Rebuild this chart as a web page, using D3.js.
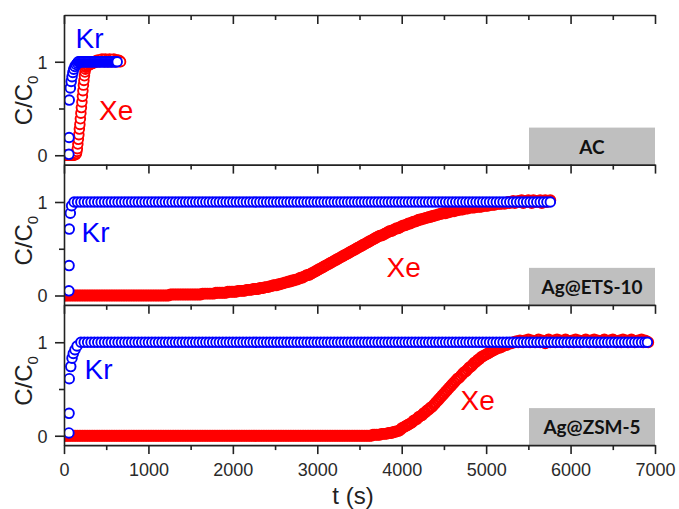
<!DOCTYPE html>
<html>
<head>
<meta charset="utf-8">
<script src="https://cdn.jsdelivr.net/npm/d3@7/dist/d3.min.js"></script>
<style>
html,body{margin:0;padding:0;background:#fff;}
svg{display:block;}
</style>
</head>
<body>
<svg id="chart" width="679" height="509"></svg>
<script>
// ---------------- DATA ----------------
const panelNames = ["AC", "Ag@ETS-10", "Ag@ZSM-5"];
const seriesNames = ["Kr", "Xe"];
const xMajorTicks = [0, 1000, 2000, 3000, 4000, 5000, 6000, 7000];
const xMinorTicks = [500, 1500, 2500, 3500, 4500, 5500, 6500];
const yMajorTicks = [0, 1];
const yMinorTicks = [0.5];

// ---- AC panel (time in s) ----
const acXeT = [0,10,20,30,40,50,60,70,80,90,100,110,120,130,140,
  146,152,158,164,170,176,182,188,194,200,206,212,218,224,230,236,242,248,254,
  260,270,280,290,300,310,320,330,340,350,360,370,380,390,400,410,420,430,440,450,
  460,470,480,490,500,510,520,530,540,550,560,570,580,590,600,610,620,630,640,650,660,670];
const acXeV = [0,0,0,0,0,0,0,0,0,0,0,0,0,0.01,0.01,
  0.02,0.04,0.07,0.12,0.17,0.22,0.28,0.33,0.39,0.45,0.51,0.57,0.63,0.69,0.75,0.80,0.85,0.89,0.92,
  0.94,0.95,0.96,0.96,0.97,0.97,0.98,0.98,0.99,0.99,
  0.99,1.00,1.01,1.00,1.02,1.01,1.00,1.02,1.01,1.03,
  1.01,1.02,1.00,1.03,1.01,1.02,1.00,1.01,1.03,1.02,
  1.00,1.02,1.01,1.03,1.01,1.00,1.02,1.01,1.02,1.00,
  1.01,1.00];
const acKrT = [58,60,62,75,85,95,105,115,130,145,160,
  170,180,190,200,210,220,230,240,250,260,270,280,290,300,310,320,330,340,350,360,
  370,380,390,400,410,420,430,440,450,460,470,480,490,500,510,520,530,540,550,560,
  570,580,590,600,610,620,630];
const acKrV = [0.01,0.19,0.59,0.72,0.79,0.84,0.885,0.92,0.95,0.97,0.985,
  1,1,1,1,1,1,1,1,1,1,
  1,1,1,1,1,1,1,1,1,1,
  1,1,1,1,1,1,1,1,1,1,
  1,1,1,1,1,1,1,1,1,1,
  1,1,1,1,1,1,1];

// ---- Ag@ETS-10 panel ----
const etsXeT = [0,20,40,60,80,100,120,140,160,180,
  200,220,240,260,280,300,320,340,360,380,
  400,420,440,460,480,500,520,540,560,580,
  600,620,640,660,680,700,720,740,760,780,
  800,820,840,860,880,900,920,940,960,980,
  1000,1020,1040,1060,1080,1100,1120,1140,1160,1180,
  1200,1220,1240,1260,1280,1300,1320,1340,1360,1380,
  1400,1420,1440,1460,1480,1500,1520,1540,1560,1580,
  1600,1620,1640,1660,1680,1700,1720,1740,1760,1780,
  1800,1820,1840,1860,1880,1900,1920,1940,1960,1980,
  2000,2020,2040,2060,2080,2100,2120,2140,2160,2180,
  2200,2220,2240,2260,2280,2300,2320,2340,2360,2380,
  2400,2420,2440,2460,2480,2500,2520,2540,2560,2580,
  2600,2620,2640,2660,2680,2700,2720,2740,2760,2780,
  2800,2820,2840,2860,2880,2900,2920,2940,2960,2980,
  3000,3020,3040,3060,3080,3100,3120,3140,3160,3180,
  3200,3220,3240,3260,3280,3300,3320,3340,3360,3380,
  3400,3420,3440,3460,3480,3500,3520,3540,3560,3580,
  3600,3620,3640,3660,3680,3700,3720,3740,3760,3780,
  3800,3820,3840,3860,3880,3900,3920,3940,3960,3980,
  4000,4020,4040,4060,4080,4100,4120,4140,4160,4180,
  4200,4220,4240,4260,4280,4300,4320,4340,4360,4380,
  4400,4420,4440,4460,4480,4500,4520,4540,4560,4580,
  4600,4620,4640,4660,4680,4700,4720,4740,4760,4780,
  4800,4820,4840,4860,4880,4900,4920,4940,4960,4980,
  5000,5020,5040,5060,5080,5100,5120,5140,5160,5180,
  5200,5220,5240,5260,5280,5300,5320,5340,5360,5380,
  5400,5420,5440,5460,5480,5500,5520,5540,5560,5580,
  5600,5620,5640,5660,5680,5700,5720,5740,5760];
const etsXeV = [0,0,0,0,0,0,0,0,0,0,
  0,0,0,0,0,0,0,0,0,0,
  0,0,0,0,0,0,0,0,0,0,
  0,0,0,0,0,0,0,0,0,0,
  0,0,0,0,0,0,0,0,0,0,
  0,0,0,0,0,0,0,0,0,0,
  0,0,0,0.01,0.01,0.01,0.01,0.01,0.01,0.01,
  0.01,0.01,0.01,0.01,0.01,0.01,0.01,0.01,0.01,0.01,
  0.01,0.01,0.02,0.02,0.02,0.02,0.02,0.02,0.02,0.02,
  0.03,0.03,0.03,0.03,0.03,0.03,0.03,0.04,0.04,0.04,
  0.04,0.04,0.04,0.05,0.05,0.05,0.05,0.05,0.06,0.06,
  0.06,0.06,0.07,0.07,0.07,0.07,0.08,0.08,0.08,0.09,
  0.09,0.09,0.10,0.10,0.11,0.11,0.11,0.12,0.12,0.13,
  0.13,0.14,0.14,0.15,0.15,0.16,0.16,0.17,0.17,0.18,
  0.19,0.19,0.20,0.21,0.22,0.22,0.23,0.24,0.25,0.26,
  0.27,0.28,0.29,0.30,0.31,0.32,0.33,0.34,0.35,0.36,
  0.37,0.38,0.39,0.40,0.41,0.42,0.43,0.44,0.45,0.46,
  0.47,0.48,0.49,0.50,0.51,0.52,0.53,0.54,0.55,0.56,
  0.57,0.58,0.59,0.60,0.61,0.62,0.63,0.64,0.64,0.65,
  0.66,0.67,0.68,0.69,0.69,0.70,0.71,0.72,0.72,0.73,
  0.74,0.75,0.75,0.76,0.77,0.77,0.78,0.79,0.79,0.80,
  0.81,0.81,0.82,0.82,0.83,0.83,0.84,0.84,0.85,0.85,
  0.86,0.86,0.87,0.87,0.88,0.88,0.88,0.89,0.89,0.90,
  0.90,0.90,0.91,0.91,0.92,0.92,0.92,0.93,0.93,0.93,
  0.94,0.94,0.94,0.94,0.95,0.95,0.95,0.95,0.96,0.96,
  0.96,0.96,0.97,0.97,0.97,0.97,0.98,0.98,0.98,0.98,
  0.99,0.98,0.99,1.00,0.99,1.00,1.01,0.99,1.00,1.01,
  1.00,1.02,0.99,1.01,1.00,1.02,1.01,0.99,1.02,1.00,
  1.01,1.00,1.02,0.99,1.01,1.02,1.00,1.01,1.02];
const etsKrT = [58,60,62,75,90,
  120,160,200,240,280,320,360,400,440,480,520,560,600,640,680,720,760,800,840,880,920,960,1000,
  1040,1080,1120,1160,1200,1240,1280,1320,1360,1400,1440,1480,1520,1560,1600,1640,1680,1720,1760,1800,
  1840,1880,1920,1960,2000,2040,2080,2120,2160,2200,2240,2280,2320,2360,2400,2440,2480,2520,2560,2600,
  2640,2680,2720,2760,2800,2840,2880,2920,2960,3000,3040,3080,3120,3160,3200,3240,3280,3320,3360,3400,
  3440,3480,3520,3560,3600,3640,3680,3720,3760,3800,3840,3880,3920,3960,4000,4040,4080,4120,4160,4200,
  4240,4280,4320,4360,4400,4440,4480,4520,4560,4600,4640,4680,4720,4760,4800,4840,4880,4920,4960,5000,
  5040,5080,5120,5160,5200,5240,5280,5320,5360,5400,5440,5480,5520,5560,5600,5640,5680,5720,5760];
const etsKrV = [0.05,0.32,0.71,0.88,0.96,
  1,1,1,1,1,1,1,1,1,1, 1,1,1,1,1,1,1,1,1,1,
  1,1,1,1,1,1,1,1,1,1, 1,1,1,1,1,1,1,1,1,1,
  1,1,1,1,1,1,1,1,1,1, 1,1,1,1,1,1,1,1,1,1,
  1,1,1,1,1,1,1,1,1,1, 1,1,1,1,1,1,1,1,1,1,
  1,1,1,1,1,1,1,1,1,1, 1,1,1,1,1,1,1,1,1,1,
  1,1,1,1,1,1,1,1,1,1, 1,1,1,1,1,1,1,1,1,1,
  1,1,1,1,1,1,1,1,1,1, 1,1,1,1,1,1,1,1,1,1,
  1,1];

// ---- Ag@ZSM-5 panel ----
const zsmXeT = [0,20,40,60,80,100,120,140,160,180,
  200,220,240,260,280,300,320,340,360,380,
  400,420,440,460,480,500,520,540,560,580,
  600,620,640,660,680,700,720,740,760,780,
  800,820,840,860,880,900,920,940,960,980,
  1000,1020,1040,1060,1080,1100,1120,1140,1160,1180,
  1200,1220,1240,1260,1280,1300,1320,1340,1360,1380,
  1400,1420,1440,1460,1480,1500,1520,1540,1560,1580,
  1600,1620,1640,1660,1680,1700,1720,1740,1760,1780,
  1800,1820,1840,1860,1880,1900,1920,1940,1960,1980,
  2000,2020,2040,2060,2080,2100,2120,2140,2160,2180,
  2200,2220,2240,2260,2280,2300,2320,2340,2360,2380,
  2400,2420,2440,2460,2480,2500,2520,2540,2560,2580,
  2600,2620,2640,2660,2680,2700,2720,2740,2760,2780,
  2800,2820,2840,2860,2880,2900,2920,2940,2960,2980,
  3000,3020,3040,3060,3080,3100,3120,3140,3160,3180,
  3200,3220,3240,3260,3280,3300,3320,3340,3360,3380,
  3400,3420,3440,3460,3480,3500,3520,3540,3560,3580,
  3600,3620,3640,3660,3680,3700,3720,3740,3760,3780,
  3800,3820,3840,3860,3880,3900,3920,3940,3960,3980,
  4000,4020,4040,4060,4080,4100,4120,4140,4160,4180,
  4200,4220,4240,4260,4280,4300,4320,4340,4360,4380,
  4400,4420,4440,4460,4480,4500,4520,4540,4560,4580,
  4600,4620,4640,4660,4680,4700,4720,4740,4760,4780,
  4800,4820,4840,4860,4880,4900,4920,4940,4960,4980,
  5000,5020,5040,5060,5080,5100,5120,5140,5160,5180,
  5200,5220,5240,5260,5280,5300,5320,5340,5360,5380,
  5400,5420,5440,5460,5480,5500,5520,5540,5560,5580,
  5600,5620,5640,5660,5680,5700,5720,5740,5760,5780,
  5800,5820,5840,5860,5880,5900,5920,5940,5960,5980,
  6000,6020,6040,6060,6080,6100,6120,6140,6160,6180,
  6200,6220,6240,6260,6280,6300,6320,6340,6360,6380,
  6400,6420,6440,6460,6480,6500,6520,6540,6560,6580,
  6600,6620,6640,6660,6680,6700,6720,6740,6760,6780,
  6800,6820,6840,6860,6880,6900,6920];
const zsmXeV = [0,0,0,0,0,0,0,0,0,0,
  0,0,0,0,0,0,0,0,0,0,
  0,0,0,0,0,0,0,0,0,0,
  0,0,0,0,0,0,0,0,0,0,
  0,0,0,0,0,0,0,0,0,0,
  0,0,0,0,0,0,0,0,0,0,
  0,0,0,0,0,0,0,0,0,0,
  0,0,0,0,0,0,0,0,0,0,
  0,0,0,0,0,0,0,0,0,0,
  0,0,0,0,0,0,0,0,0,0,
  0,0,0,0,0,0,0,0,0,0,
  0,0,0,0,0,0,0,0,0,0,
  0,0,0,0,0,0,0,0,0,0,
  0,0,0,0,0,0,0,0,0,0,
  0,0,0,0,0,0,0,0,0,0,
  0,0,0,0,0,0,0,0,0,0,
  0,0,0,0,0,0,0,0,0,0,
  0,0,0,0,0,0,0,0,0,0,
  0,0,0,0.01,0.01,0.01,0.01,0.01,0.02,0.02,
  0.02,0.02,0.03,0.03,0.03,0.04,0.04,0.05,0.05,0.06,
  0.08,0.09,0.10,0.11,0.12,0.13,0.14,0.16,0.17,0.18,
  0.20,0.21,0.22,0.24,0.25,0.27,0.28,0.30,0.31,0.33,
  0.35,0.37,0.39,0.41,0.43,0.45,0.47,0.49,0.51,0.53,
  0.55,0.57,0.59,0.61,0.62,0.64,0.66,0.68,0.69,0.71,
  0.73,0.74,0.76,0.78,0.79,0.81,0.82,0.84,0.85,0.86,
  0.87,0.88,0.89,0.90,0.91,0.92,0.93,0.94,0.94,0.95,
  0.96,0.97,0.97,0.98,0.99,0.99,1.00,1.00,1.01,1.00,
  1.02,1.01,1.00,1.02,1.01,1.03,1.00,1.02,1.01,1.00,
  1.01,1.03,1.00,1.02,1.01,0.99,1.02,1.03,1.00,1.01,
  1.02,1.00,1.03,1.01,1.02,1.00,1.01,1.03,1.02,1.00,
  1.01,1.02,1.00,1.03,1.01,1.02,1.00,1.01,1.02,1.03,
  1.01,1.00,1.02,1.01,1.03,1.00,1.02,1.01,1.00,1.02,
  1.03,1.01,1.00,1.02,1.01,1.03,1.02,1.00,1.01,1.02,
  1.00,1.03,1.01,1.02,1.00,1.01,1.03,1.02,1.00,1.01,
  1.02,1.01,1.03,1.00,1.02,1.01,1.00];
const zsmKrT = [58,60,62,80,95,110,130,155,
  200,240,280,320,360,400,440,480,520,560,600,640,680,720,760,800,840,880,920,960,1000,
  1040,1080,1120,1160,1200,1240,1280,1320,1360,1400,1440,1480,1520,1560,1600,1640,1680,1720,1760,1800,
  1840,1880,1920,1960,2000,2040,2080,2120,2160,2200,2240,2280,2320,2360,2400,2440,2480,2520,2560,2600,
  2640,2680,2720,2760,2800,2840,2880,2920,2960,3000,3040,3080,3120,3160,3200,3240,3280,3320,3360,3400,
  3440,3480,3520,3560,3600,3640,3680,3720,3760,3800,3840,3880,3920,3960,4000,4040,4080,4120,4160,4200,
  4240,4280,4320,4360,4400,4440,4480,4520,4560,4600,4640,4680,4720,4760,4800,4840,4880,4920,4960,5000,
  5040,5080,5120,5160,5200,5240,5280,5320,5360,5400,5440,5480,5520,5560,5600,5640,5680,5720,5760,5800,
  5840,5880,5920,5960,6000,6040,6080,6120,6160,6200,6240,6280,6320,6360,6400,6440,6480,6520,6560,6600,
  6640,6680,6720,6760,6800,6840,6880,6910];
const zsmKrV = [0.03,0.24,0.61,0.74,0.83,0.88,0.92,0.96,
  1,1,1,1,1,1,1,1,1,1,1, 1,1,1,1,1,1,1,1,1,1,
  1,1,1,1,1,1,1,1,1,1, 1,1,1,1,1,1,1,1,1,1,
  1,1,1,1,1,1,1,1,1,1, 1,1,1,1,1,1,1,1,1,1,
  1,1,1,1,1,1,1,1,1,1, 1,1,1,1,1,1,1,1,1,1,
  1,1,1,1,1,1,1,1,1,1, 1,1,1,1,1,1,1,1,1,1,
  1,1,1,1,1,1,1,1,1,1, 1,1,1,1,1,1,1,1,1,1,
  1,1,1,1,1,1,1,1,1,1, 1,1,1,1,1,1,1,1,1,1,
  1,1,1,1,1,1,1,1,1,1, 1,1,1,1,1,1,1,1,1,1,
  1,1,1,1,1,1,1,1];

// ---------------- LAYOUT ----------------
const FONT = "'Liberation Sans', Arial, Helvetica, sans-serif";
const AXIS = "#222";
const KR = "#0000ff", XE = "#ff0000";
const R = 4.8, SW = 1.9;
const svg = d3.select("#chart");
const x = d3.scaleLinear().domain([0, 7000]).range([64, 655]);

const panels = [
  { name: panelNames[0], top: 15, bottom: 164.6, dom: [-0.1, 1.5],
    xe: d3.zip(acXeT, acXeV), kr: d3.zip(acKrT, acKrV), xeFill: "#fff", xeSW: SW,
    krLab: [75.5, 48.3], xeLab: [99, 120] },
  { name: panelNames[1], top: 164.6, bottom: 304.85, dom: [-0.1, 1.4],
    xe: d3.zip(etsXeT, etsXeV), kr: d3.zip(etsKrT, etsKrV), xeFill: "none", xeSW: 2.3,
    krLab: [81.5, 241.7], xeLab: [386.5, 276.7] },
  { name: panelNames[2], top: 304.85, bottom: 445.1, dom: [-0.1, 1.4],
    xe: d3.zip(zsmXeT, zsmXeV), kr: d3.zip(zsmKrT, zsmKrV), xeFill: "none", xeSW: 2.3,
    krLab: [84.5, 379.3], xeLab: [460.5, 410] }
];

function styleAxis(g) {
  g.selectAll("path.domain").attr("stroke", AXIS).attr("stroke-width", 1.6);
  g.selectAll(".tick line").attr("stroke", AXIS).attr("stroke-width", 1.6);
  g.selectAll(".tick text").attr("fill", "#2a2a2a").style("font-family", FONT).style("font-size", "18px");
}

panels.forEach((p, i) => {
  const y = d3.scaleLinear().domain(p.dom).range([p.bottom, p.top]);
  const clipId = "clip" + i;
  svg.append("clipPath").attr("id", clipId).append("rect")
    .attr("x", 64).attr("y", p.top).attr("width", 591).attr("height", p.bottom - p.top);

  // gray panel label box
  svg.append("rect").attr("x", 529).attr("y", p.bottom - 37).attr("width", 126).attr("height", 37)
    .attr("fill", "#bfbfbf");
  svg.append("text").attr("x", 592).attr("y", p.bottom - 11).attr("text-anchor", "middle")
    .style("font-family", "Lato, 'Open Sans', sans-serif").style("font-weight", 700).style("font-size", "19px")
    .attr("fill", "#111").text(p.name);

  const g = svg.append("g").attr("clip-path", `url(#${clipId})`);
  g.selectAll("circle.xe").data(p.xe).join("circle").attr("class", "xe")
    .attr("cx", d => x(d[0])).attr("cy", d => y(d[1])).attr("r", R)
    .attr("fill", p.xeFill).attr("stroke", XE).attr("stroke-width", p.xeSW);
  g.selectAll("circle.kr").data(p.kr).join("circle").attr("class", "kr")
    .attr("cx", d => x(d[0])).attr("cy", d => y(d[1])).attr("r", R)
    .attr("fill", "#fff").attr("stroke", KR).attr("stroke-width", SW);

  // series labels
  svg.append("text").attr("x", p.krLab[0]).attr("y", p.krLab[1]).attr("fill", KR)
    .style("font-family", FONT).style("font-size", "28px").text(seriesNames[0]);
  svg.append("text").attr("x", p.xeLab[0]).attr("y", p.xeLab[1]).attr("fill", XE)
    .style("font-family", FONT).style("font-size", "28px").text(seriesNames[1]);

  // y axis
  const ya = svg.append("g").attr("transform", "translate(64,0)")
    .call(d3.axisLeft(y).tickValues(yMajorTicks).tickSize(9).tickSizeOuter(0).tickFormat(d3.format("d")));
  styleAxis(ya);
  ya.selectAll(".tick text").attr("x", -16.5).attr("dy", "0.35em");
  const yam = svg.append("g").attr("transform", "translate(64,0)")
    .call(d3.axisLeft(y).tickValues(yMinorTicks).tickSize(5).tickSizeOuter(0).tickFormat(""));
  yam.select("path.domain").remove();
  styleAxis(yam);

  // y title
  const cy = (y(0) + y(1)) / 2 - 8;
  const yt = svg.append("text").attr("transform", `translate(31.5,${cy}) rotate(-90)`)
    .attr("text-anchor", "middle").attr("fill", "#222")
    .style("font-family", FONT).style("font-size", "24px");
  yt.append("tspan").text("C/C");
  yt.append("tspan").attr("dy", 6).style("font-size", "15px").text("0");
});

// horizontal axis lines with downward ticks (top of panel 1, between panels, bottom)
const lines = [15, 164.6, 304.85, 445.1];
lines.forEach((ly, i) => {
  const last = i === lines.length - 1;
  const xa = svg.append("g").attr("transform", `translate(0,${ly})`)
    .call(d3.axisBottom(x).tickValues(xMajorTicks).tickSize(9).tickSizeOuter(0)
      .tickFormat(last ? d3.format("d") : ""));
  styleAxis(xa);
  if (last) xa.selectAll(".tick text").attr("y", 31).attr("dy", null);
  const xm = svg.append("g").attr("transform", `translate(0,${ly})`)
    .call(d3.axisBottom(x).tickValues(xMinorTicks).tickSize(5).tickSizeOuter(0).tickFormat(""));
  xm.select("path.domain").remove();
  styleAxis(xm);
});

svg.append("text").attr("x", 353).attr("y", 504).attr("text-anchor", "middle").attr("fill", "#222")
  .style("font-family", FONT).style("font-size", "24px").text("t (s)");
</script>
</body>
</html>
